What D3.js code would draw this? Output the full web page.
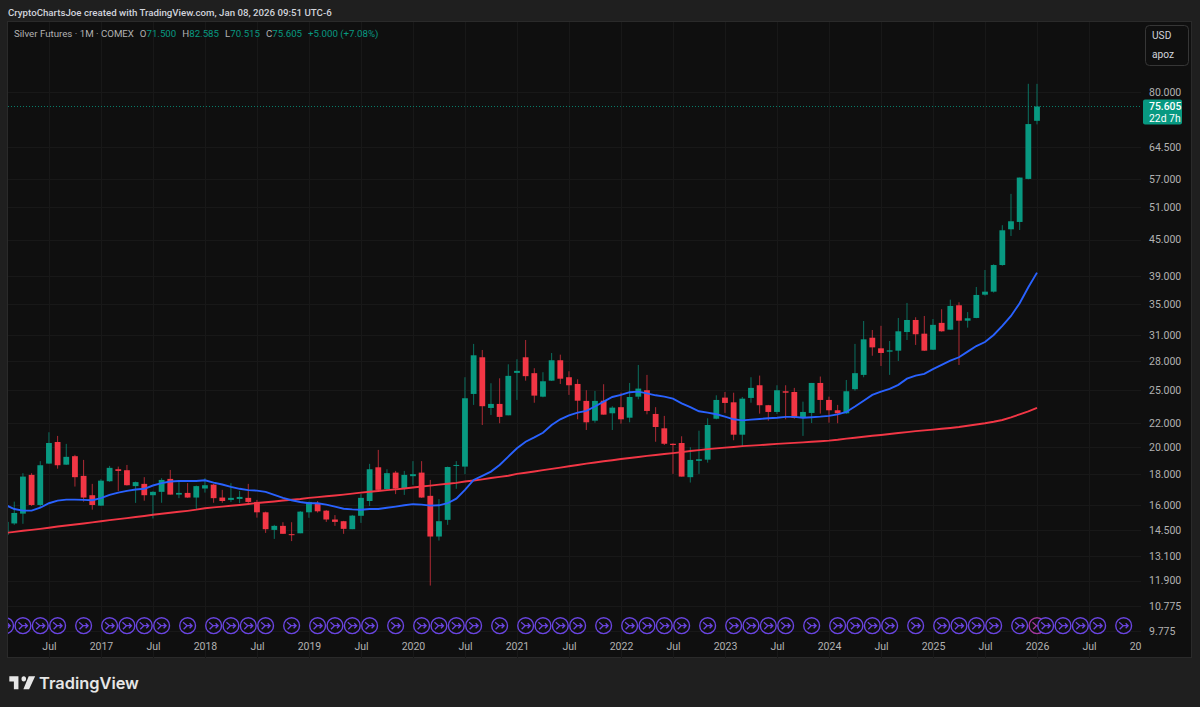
<!DOCTYPE html>
<html>

<head>
    <meta charset="utf-8">
    <style>
        body {
            margin: 0;
            background: #1f1f1f;
        }

        svg {
            display: block;
            font-family: Roboto, 'Liberation Sans', sans-serif;
        }

        .y .domain, .x .domain {
            display: none;
        }

        .y .tick line, .x .tick line {
            display: none;
        }

        .y .tick text, .x .tick text {
            fill: #b2b2b2;
            font-size: 10.5px;
            font-family: Roboto, 'Liberation Sans', sans-serif;
        }

        .grid line {
            stroke: #181818;
        }
    </style>
</head>

<body>
    <svg width="1200" height="707"></svg>
</body>

<script src="https://d3js.org/d3.v7.min.js"></script>

<script>
    // monthly candles, Feb 2016 to Jan 2026
    let opens = [
        14.22, 14.87, 15.45, 17.97, 15.98, 18.78, 20.43, 18.70, 19.33, 17.90, 16.60,
        15.94, 17.53, 18.37, 18.30, 17.20, 17.35, 16.60, 16.82, 17.69, 16.64, 16.75, 16.45,
        17.04, 17.30, 16.45, 16.30, 16.36, 16.43, 16.17, 15.53, 14.50, 14.73, 14.26, 14.31,
        15.53, 16.04, 15.63, 15.10, 15.00, 14.54, 15.32, 16.23, 18.51, 17.00, 18.13, 17.02,
        17.88, 18.13, 16.56, 14.13, 15.08, 18.61, 18.56, 24.64, 28.43, 23.33, 23.70, 22.67,
        26.75, 28.43, 26.72, 24.38, 25.95, 28.10, 26.30, 25.62, 23.98, 22.20, 24.00, 22.85,
        23.40, 22.46, 24.38, 25.00, 22.79, 21.55, 20.29, 20.35, 17.81, 18.98, 19.07, 22.37,
        24.29, 23.85, 21.02, 24.26, 25.49, 23.58, 22.97, 24.90, 24.83, 22.44, 22.88, 25.72,
        24.07, 23.12, 22.85, 25.10, 26.54, 30.68, 29.44, 29.06, 29.17, 31.37, 32.88, 31.17,
        29.28, 32.51, 31.66, 34.82, 32.79, 33.14, 36.29, 36.72, 40.74, 46.83, 48.19, 57.00,
        71.5
    ];
    let highs = [
        15.02, 16.19, 18.09, 18.09, 18.96, 21.22, 20.92, 20.28, 19.43, 19.05, 17.35,
        17.67, 18.61, 18.56, 18.68, 17.51, 17.81, 16.86, 17.74, 18.32, 17.55, 17.40, 17.24,
        17.74, 17.35, 16.95, 17.40, 16.88, 17.35, 16.30, 15.57, 14.79, 14.94, 14.94, 15.61,
        16.19, 16.23, 15.67, 15.36, 15.02, 15.37, 16.67, 18.76, 19.81, 18.37, 18.25, 18.25,
        18.96, 18.96, 17.62, 16.35, 18.56, 18.96, 26.30, 29.95, 29.25, 25.69, 26.19, 27.66,
        28.21, 30.41, 27.24, 26.82, 28.91, 28.72, 26.92, 26.09, 25.00, 24.93, 25.59, 23.49,
        24.76, 25.72, 27.59, 26.54, 23.40, 22.62, 20.32, 20.89, 20.02, 21.35, 22.41, 24.51,
        24.83, 24.76, 24.35, 26.30, 26.47, 23.61, 25.49, 25.49, 25.23, 23.91, 25.72, 26.37,
        24.38, 23.61, 26.02, 29.95, 32.75, 31.62, 32.14, 30.29, 33.14, 35.14, 33.23, 33.40,
        33.01, 34.29, 35.59, 35.23, 33.91, 37.40, 39.96, 40.86, 47.59, 53.77, 57.30, 82.60,
        82.585
    ];
    let lows = [
        14.17, 14.79, 14.85, 15.92, 15.84, 18.76, 18.41, 18.68, 17.17, 16.19, 15.69,
        15.92, 17.49, 16.88, 17.24, 16.11, 16.25, 15.16, 16.12, 16.64, 16.41, 16.43, 15.67,
        16.77, 16.12, 16.12, 16.17, 16.09, 15.98, 15.21, 14.33, 14.00, 14.28, 13.88, 14.31,
        15.20, 15.51, 14.96, 14.73, 14.28, 14.54, 14.90, 15.92, 16.95, 16.95, 16.67, 16.62,
        17.28, 16.43, 11.67, 13.91, 14.79, 17.02, 18.02, 23.61, 21.83, 22.70, 21.98, 22.67,
        24.07, 25.95, 23.81, 24.32, 25.92, 25.62, 24.55, 22.32, 21.41, 22.03, 22.73, 21.41,
        21.94, 22.06, 24.13, 22.76, 20.45, 20.19, 18.04, 17.85, 17.44, 18.04, 18.85, 22.32,
        22.88, 20.57, 20.04, 23.81, 22.82, 22.20, 22.79, 22.32, 22.37, 20.92, 22.00, 22.82,
        22.03, 21.98, 22.79, 24.96, 26.30, 28.60, 27.48, 26.54, 28.02, 30.41, 29.83, 29.14,
        29.25, 31.41, 31.62, 27.59, 31.91, 33.10, 36.15, 36.58, 40.63, 45.63, 46.70, 56.90,
        70.515
    ];
    let closes = [
        14.96, 15.49, 17.85, 15.98, 18.66, 20.35, 18.66, 19.28, 17.81, 16.45, 15.98,
        17.57, 18.47, 18.25, 17.26, 17.47, 16.60, 16.82, 17.62, 16.64, 16.75, 16.45, 17.20,
        17.26, 16.41, 16.23, 16.43, 16.49, 16.17, 15.53, 14.54, 14.73, 14.28, 14.22, 15.57,
        16.17, 15.59, 15.10, 14.96, 14.56, 15.33, 16.43, 18.37, 16.95, 18.09, 17.04, 17.97,
        18.02, 16.45, 14.13, 15.00, 18.53, 18.68, 24.23, 28.65, 23.49, 23.70, 22.53, 26.44,
        26.96, 26.41, 24.48, 25.89, 28.10, 26.15, 25.49, 24.00, 22.06, 23.98, 22.73, 23.36,
        22.32, 24.35, 25.16, 23.06, 21.66, 20.29, 20.19, 17.85, 19.05, 19.10, 21.83, 24.07,
        23.79, 21.02, 24.19, 25.23, 23.58, 22.97, 25.00, 24.76, 22.44, 22.97, 25.72, 24.07,
        23.12, 22.85, 24.90, 26.72, 30.49, 29.55, 28.91, 29.21, 31.46, 32.88, 31.10, 29.17,
        32.26, 31.46, 34.73, 32.79, 33.10, 36.25, 36.72, 40.74, 46.65, 48.32, 57.30, 70.60,
        75.605
    ];

    // the two moving averages, read month by month
    let blueMA = [
        15.98, 15.73, 15.63, 15.63, 15.81, 16.09, 16.25, 16.32, 16.32, 16.30, 16.28,
        16.41, 16.62, 16.77, 16.88, 16.97, 17.02, 17.24, 17.40, 17.51, 17.55, 17.55, 17.55,
        17.60, 17.44, 17.31, 17.15, 17.02, 16.93, 16.90, 16.82, 16.62, 16.43, 16.28, 16.17,
        16.09, 16.09, 16.00, 15.88, 15.75, 15.71, 15.69, 15.73, 15.73, 15.81, 15.88, 15.96,
        16.03, 16.00, 15.94, 15.96, 16.09, 16.38, 16.95, 17.62, 17.90, 18.20, 18.68, 19.30,
        19.94, 20.45, 20.80, 21.18, 21.83, 22.32, 22.67, 22.91, 23.06, 23.46, 23.91, 24.35,
        24.55, 24.81, 24.86, 24.69, 24.51, 24.38, 24.19, 23.76, 23.40, 23.03, 22.91, 22.76,
        22.55, 22.32, 22.23, 22.29, 22.35, 22.41, 22.46, 22.53, 22.53, 22.46, 22.50, 22.55,
        22.62, 22.75, 22.97, 23.46, 24.00, 24.55, 24.87, 25.13, 25.53, 26.15, 26.47, 26.65,
        27.14, 27.59, 28.05, 28.43, 29.06, 29.70, 30.17, 31.01, 32.14, 33.40, 35.10, 37.36,
        39.55
    ];
    let redMA = [
        14.33, 14.39, 14.45, 14.50, 14.56, 14.62, 14.69, 14.75, 14.81, 14.87, 14.93,
        15.00, 15.06, 15.12, 15.18, 15.25, 15.31, 15.38, 15.44, 15.50, 15.56, 15.62, 15.69,
        15.78, 15.83, 15.88, 15.93, 15.98, 16.04, 16.10, 16.15, 16.20, 16.26, 16.31, 16.36,
        16.43, 16.48, 16.53, 16.58, 16.64, 16.70, 16.77, 16.83, 16.88, 16.93, 16.98, 17.04,
        17.11, 17.17, 17.23, 17.30, 17.36, 17.42, 17.51, 17.58, 17.66, 17.75, 17.83, 17.91,
        18.04, 18.12, 18.21, 18.31, 18.40, 18.49, 18.59, 18.68, 18.78, 18.86, 18.95, 19.03,
        19.12, 19.19, 19.27, 19.35, 19.42, 19.49, 19.56, 19.64, 19.72, 19.79, 19.87, 19.93,
        19.99, 20.04, 20.10, 20.14, 20.18, 20.23, 20.28, 20.32, 20.36, 20.40, 20.45, 20.49,
        20.54, 20.61, 20.70, 20.77, 20.85, 20.93, 21.00, 21.08, 21.16, 21.23, 21.31, 21.38,
        21.44, 21.51, 21.58, 21.66, 21.77, 21.87, 21.98, 22.11, 22.26, 22.49, 22.76, 23.03,
        23.33
    ];

    let priceTicks = [80, 64.5, 57, 51, 45, 39, 35, 31, 28, 25, 22, 20, 18, 16, 14.5, 13.1, 11.9, 10.775, 9.775];

    // months counted from Feb 2016
    let timeTicks = [5, 11, 17, 23, 29, 35, 41, 47, 53, 59, 65, 71, 77, 83, 89, 95, 101, 107, 113, 119, 125, 131];
    let timeLabels = ["Jul", "2017", "Jul", "2018", "Jul", "2019", "Jul", "2020", "Jul", "2021", "Jul", "2022", "Jul", "2023", "Jul", "2024", "Jul", "2025", "Jul", "2026", "Jul", "20"];

    // event markers along the bottom
    let eventMonths = [0, 2, 4, 6, 9, 12, 14, 16, 18, 21, 24, 26, 28, 30, 33, 36, 38, 40, 42, 45, 48, 50, 52, 54, 57, 60, 62, 64, 66, 69, 72, 74, 76, 78, 81, 84, 86, 88, 90, 93, 96, 98, 100, 102, 105, 108, 110, 112, 114, 117, 120, 122, 124, 126, 129];
    let pinkEvent = 119;

    let green = "#089981";
    let red = "#f23645";
    let chart = { left: 8, right: 1141, top: 22, bottom: 658, outer: 1192 };

    let svg = d3.select("svg");

    let x = d3.scaleLinear().domain([0, 131]).range([5.6, 1141]);
    let y = d3.scaleLog().domain([80, 9.775]).range([92, 631]);

    // panel
    svg.append("rect")
        .attr("x", chart.left - 0.5)
        .attr("y", chart.top - 0.5)
        .attr("width", chart.outer - chart.left)
        .attr("height", chart.bottom - chart.top)
        .attr("fill", "#0f0f0f")
        .attr("stroke", "#2a2a2a")

    svg.append("defs").append("clipPath")
        .attr("id", "plot")
        .append("rect")
        .attr("x", chart.left)
        .attr("y", chart.top)
        .attr("width", chart.right - chart.left)
        .attr("height", chart.bottom - chart.top)

    let plot = svg.append("g").attr("clip-path", "url(#plot)");

    // grid
    let grid = plot.append("g").attr("class", "grid");
    grid.selectAll(".h").data(priceTicks).join("line")
        .attr("class", "h")
        .attr("x1", chart.left).attr("x2", chart.right)
        .attr("y1", d => Math.round(y(d)) + 0.5).attr("y2", d => Math.round(y(d)) + 0.5)
    grid.selectAll(".v").data(timeTicks).join("line")
        .attr("class", "v")
        .attr("x1", d => Math.round(x(d)) + 0.5).attr("x2", d => Math.round(x(d)) + 0.5)
        .attr("y1", chart.top).attr("y2", chart.bottom)

    // last price line
    plot.append("line")
        .attr("x1", chart.left).attr("x2", chart.right)
        .attr("y1", y(closes[closes.length - 1])).attr("y2", y(closes[closes.length - 1]))
        .attr("stroke", green)
        .attr("stroke-opacity", 0.8)
        .attr("stroke-dasharray", "1 2")

    // candles
    let candles = plot.append("g")
        .selectAll("g")
        .data(closes.map((c, i) => i))
        .join("g")
        .attr("fill", i => closes[i] >= opens[i] ? green : red)
        .attr("stroke", i => closes[i] >= opens[i] ? green : red)

    candles.append("line")
        .attr("x1", i => x(i)).attr("x2", i => x(i))
        .attr("y1", i => y(highs[i])).attr("y2", i => y(lows[i]))
        .attr("stroke-opacity", 0.7)

    candles.append("rect")
        .attr("x", i => x(i) - 2.9)
        .attr("width", 5.8)
        .attr("y", i => y(Math.max(opens[i], closes[i])))
        .attr("height", i => Math.max(1, Math.abs(y(opens[i]) - y(closes[i]))))
        .attr("stroke", "none")

    // moving averages
    let maLine = d3.line().x((d, i) => x(i)).y(d => y(d));

    plot.append("path")
        .attr("d", maLine(redMA))
        .attr("fill", "none")
        .attr("stroke", red)
        .attr("stroke-width", 1.9)

    plot.append("path")
        .attr("d", maLine(blueMA))
        .attr("fill", "none")
        .attr("stroke", "#2962ff")
        .attr("stroke-width", 1.9)

    // event markers
    let glyph = "M-4.5-3.5L-.5 0H4.5M2-2.5L4.5 0L2 2.5M-.5 0L-4 3.5";

    function drawEvent(g, color) {
        g.attr("transform", d => `translate(${x(d)},625.7)`)
        g.append("circle")
            .attr("r", 7.9)
            .attr("fill", "#0f0f0f")
            .attr("stroke", color)
            .attr("stroke-width", 1.4)
        g.append("path")
            .attr("d", glyph)
            .attr("fill", "none")
            .attr("stroke", color)
            .attr("stroke-width", 1.3)
    }

    plot.append("g").call(g => drawEvent(g.selectAll("g").data([pinkEvent]).join("g"), "#a2389f"))
    plot.append("g").call(g => drawEvent(g.selectAll("g").data(eventMonths).join("g"), "#6a45e0"))

    // axes
    let yAxisSettings = d3.axisRight(y)
        .tickValues(priceTicks)
        .tickSize(0)
        .tickPadding(0)
        .tickFormat(d3.format(".3f"))

    svg.append("g")
        .attr("class", "y axis")
        .attr("transform", "translate(1149,0)")
        .call(yAxisSettings)

    let xAxisSettings = d3.axisBottom(x)
        .tickValues(timeTicks)
        .tickSize(0)
        .tickPadding(0)
        .tickFormat((d, i) => timeLabels[i])

    let xAxisTicks = svg.append("g")
        .attr("class", "x axis")
        .attr("transform", "translate(0,643)")
        .call(xAxisSettings)

    xAxisTicks.selectAll(".tick text")
        .filter(d => d === 131)
        .attr("text-anchor", "end")

    // header
    svg.append("text")
        .attr("x", 8).attr("y", 15.5)
        .attr("fill", "#d1d4dc")
        .attr("font-size", 9.7)
        .attr("font-weight", 500)
        .text("CryptoChartsJoe created with TradingView.com, Jan 08, 2026 09:51 UTC-6")

    let legend = svg.append("text")
        .attr("x", 14).attr("y", 37)
        .attr("font-size", 9.7)
        .attr("fill", "#b2b2b2")

    legend.append("tspan").text("Silver Futures · 1M · COMEX")
    let ohlc = [["O", opens], ["H", highs], ["L", lows], ["C", closes]];
    ohlc.forEach(d => {
        legend.append("tspan").attr("dx", 6).text(d[0])
        legend.append("tspan").attr("fill", green).text(d3.format(".3f")(d[1][d[1].length - 1]))
    })
    legend.append("tspan").attr("dx", 6).attr("fill", green).text("+5.000 (+7.08%)")

    // currency box
    svg.append("rect")
        .attr("x", 1145.5).attr("y", 25.5)
        .attr("width", 43).attr("height", 40)
        .attr("rx", 4)
        .attr("fill", "#0f0f0f")
        .attr("stroke", "#363636")
    svg.append("text").attr("x", 1152).attr("y", 39).attr("fill", "#d1d4dc").attr("font-size", 10.2).text("USD")
    svg.append("text").attr("x", 1152).attr("y", 58).attr("fill", "#d1d4dc").attr("font-size", 10.2).text("apoz")

    // last price tag
    svg.append("rect")
        .attr("x", 1143).attr("y", 99.5)
        .attr("width", 39).attr("height", 25)
        .attr("rx", 2)
        .attr("fill", green)
    svg.append("text").attr("x", 1149).attr("y", 110).attr("fill", "#ffffff").attr("font-size", 10.4).attr("font-weight", 500)
        .text(d3.format(".3f")(closes[closes.length - 1]))
    svg.append("text").attr("x", 1149).attr("y", 121.5).attr("fill", "#ffffff").attr("font-size", 10.4).text("22d 7h")

    // logo
    let logo = svg.append("g").attr("transform", "translate(7.8,671) scale(0.76,0.87)");
    logo.append("path")
        .attr("d", "M14 6H2v6h6v9h6V6zm14 15h-7.5l7-15H36l-8 15zm-7-9a3 3 0 1 0 0-6 3 3 0 0 0 0 6z")
        .attr("fill", "#e6e6e6")

    svg.append("text")
        .attr("x", 39).attr("y", 689)
        .attr("fill", "#e6e6e6")
        .attr("font-size", 16.4)
        .attr("font-weight", 600)
        .attr("font-family", "Inter, Roboto, sans-serif")
        .text("TradingView")
</script>

</html>
